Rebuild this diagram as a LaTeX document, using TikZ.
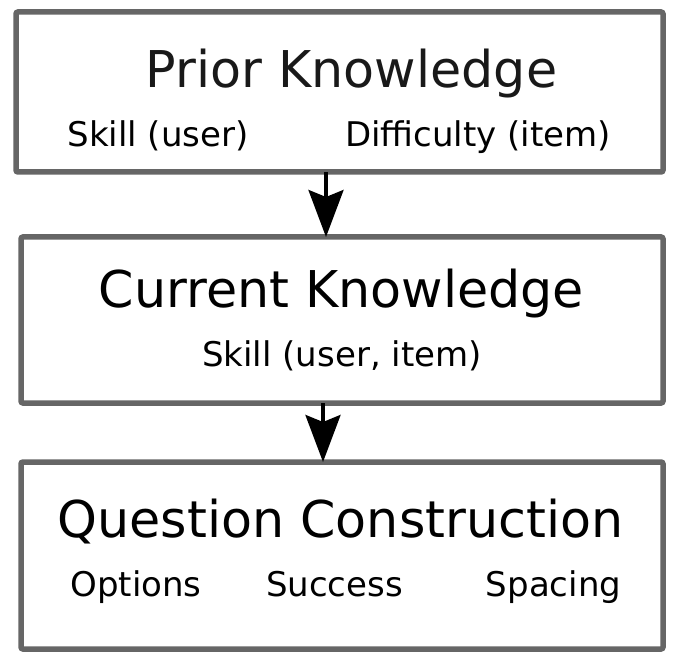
\documentclass[tikz,border=0pt]{standalone}
\usepackage{fontspec}
\setmainfont{DejaVu Sans}
\usetikzlibrary{arrows.meta}
\definecolor{boxgray}{HTML}{666666}
\begin{document}
\begin{tikzpicture}[x=1pt,y=-1pt,
  box/.style={draw=boxgray, line width=5.5pt, rounded corners=2pt, fill=white,
    inner sep=0pt, outer sep=0pt, rectangle},
  title/.style={anchor=base, inner sep=0pt, font=\fontsize{50.7}{60}\selectfont},
  sub/.style={anchor=base, inner sep=0pt, font=\fontsize{34}{40}\selectfont},
  arr/.style={line width=3.5pt, -{Stealth[length=47pt, width=35pt, inset=7pt]}}]
\useasboundingbox (0,0) rectangle (690,668);
\node[box, minimum width=647pt, minimum height=160pt] (b1) at (339.5,92) {};
\node[box, minimum width=642pt, minimum height=166pt] (b2) at (342,320) {};
\node[box, minimum width=642pt, minimum height=187pt] (b3) at (342,555.5) {};
\node[title, text=black!90] (t1) at (351.5,87.5) {Prior Knowledge};
\node[sub] (s11) at (158,146.5) {Skill (user)};
\node[sub] (s12) at (478,146.5) {Difficulty (item)};
\node[title] (t2) at (341.5,307) {Current Knowledge};
\node[sub] (s21) at (342,366.5) {Skill (user, item)};
\node[title] (t3) at (340.5,537) {Question Construction};
\node[sub] (s31) at (136,596.5) {Options};
\node[sub] (s32) at (334.5,596.5) {Success};
\node[sub] (s33) at (553.5,596.5) {Spacing};
\coordinate (x1) at (326,0);
\coordinate (x2) at (323,0);
\draw[arr] (b1.south -| x1) -- (b2.north -| x1);
\draw[arr] (b2.south -| x2) -- (b3.north -| x2);
\end{tikzpicture}
\end{document}
